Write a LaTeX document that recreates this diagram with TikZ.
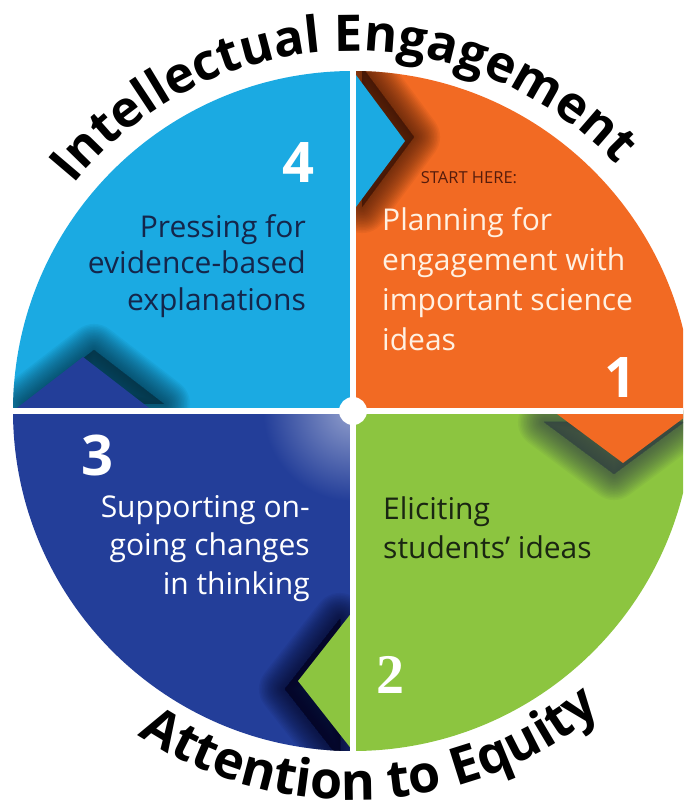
\documentclass[tikz,border=0pt]{standalone}
\usepackage{fontspec}
\setmainfont{Open Sans}
\newfontfamily\numserif{Liberation Serif}
\usetikzlibrary{decorations.text}

\definecolor{cyanq}{RGB}{27,170,226}
\definecolor{orangeq}{RGB}{242,106,35}
\definecolor{greenq}{RGB}{140,197,64}
\definecolor{navyq}{RGB}{35,62,153}
\definecolor{cyantext}{RGB}{20,38,75}
\definecolor{greentext}{RGB}{26,38,18}
\definecolor{starttext}{RGB}{85,28,12}
\definecolor{orangetext}{RGB}{255,241,226}
\definecolor{shadowbrown}{RGB}{55,20,6}
\definecolor{shadowgrey}{RGB}{50,62,70}
\definecolor{shadownavy}{RGB}{4,6,30}
\definecolor{shadowteal}{RGB}{4,45,62}

\tikzset{
  quadtext/.style={inner sep=0pt, font=\fontsize{30}{38.5}\selectfont},
  bignum/.style={inner sep=0pt, text=white, font=\fontsize{56}{56}\selectfont\bfseries},
  divider/.style={white, line width=6pt},
  shadowlayer/.style={fill=#1, draw=#1, opacity=0.055, line join=round},
  headtext/.style={decorate, decoration={text along path, text align=center,
      text={|\fontsize{50.5}{50.5}\selectfont\bfseries|#1}}},
  foottext/.style={decorate, decoration={text along path, text align=center,
      text={|\fontsize{52}{52}\selectfont\bfseries|#1}}},
}

\begin{document}
\begin{tikzpicture}[x=1pt,y=1pt]
\clip (-353,-399) rectangle (330,411);
\fill[white] (-353,-399) rectangle (330,411);

% quadrants
\fill[cyanq] (0,0) -- (180:340) arc[start angle=180,end angle=90,radius=340] -- cycle;
\fill[orangeq] (0,0) -- (90:340) arc[start angle=90,end angle=0,radius=340] -- cycle;
\fill[greenq] (0,0) -- (0:340) arc[start angle=0,end angle=-90,radius=340] -- cycle;
\fill[navyq] (0,0) -- (-90:340) arc[start angle=-90,end angle=-180,radius=340] -- cycle;

% light glow in the navy quadrant near the centre
\begin{scope}
  \clip (0,0) rectangle (-345,-345);
  \shade[inner color=navyq!50!white, outer color=navyq] (0,0) circle[radius=90];
\end{scope}

% cyan pointer into orange quadrant
\begin{scope}
  \clip (0,0) circle[radius=340];
  \clip (0,0) rectangle (345,345);
  \begin{scope}[shift={(9,4)}]
    \foreach \w in {52,49,...,1}
      \filldraw[shadowlayer=shadowbrown, line width=\w pt] (0,200) -- (52,270) -- (0,340) -- cycle;
  \end{scope}
  \fill[cyanq] (0,200) -- (52,270) -- (0,340) -- cycle;
\end{scope}

% orange pointer into green quadrant
\begin{scope}
  \clip (0,0) circle[radius=340];
  \clip (0,0) rectangle (345,-345);
  \begin{scope}[shift={(-9,-11)}]
    \foreach \w in {52,49,...,1}
      \filldraw[shadowlayer=shadowgrey, line width=\w pt] (200,0) -- (270,-52) -- (340,0) -- cycle;
  \end{scope}
  \fill[orangeq] (200,0) -- (270,-52) -- (340,0) -- cycle;
\end{scope}

% green pointer into navy quadrant
\begin{scope}
  \clip (0,0) circle[radius=340];
  \clip (0,0) rectangle (-345,-345);
  \begin{scope}[shift={(-13,-8)}]
    \foreach \w in {52,49,...,1}
      \filldraw[shadowlayer=shadownavy, line width=\w pt] (0,-200) -- (-55,-270) -- (0,-340) -- cycle;
  \end{scope}
  \fill[greenq] (0,-200) -- (-55,-270) -- (0,-340) -- cycle;
\end{scope}

% navy pointer into cyan quadrant
\begin{scope}
  \clip (0,0) circle[radius=340];
  \clip (0,0) rectangle (-345,345);
  \begin{scope}[shift={(11,7)}]
    \foreach \w in {52,49,...,1}
      \filldraw[shadowlayer=shadowteal, line width=\w pt] (-200,0) -- (-270,54) -- (-340,0) -- cycle;
  \end{scope}
  \fill[navyq] (-200,0) -- (-270,54) -- (-340,0) -- cycle;
\end{scope}

% dividers and hub
\begin{scope}
  \clip (0,0) circle[radius=341];
  \draw[divider] (0,-345) -- (0,345);
  \draw[divider] (-345,0) -- (345,0);
\end{scope}
\fill[white] (0,0) circle[radius=14];

% curved titles
\path[headtext=Intellectual Engagement] (182:360) arc[start angle=182, end angle=2, radius=360];
\path[foottext=Attention to Equity] (183:389) arc[start angle=183, end angle=363, radius=389];

% numbers
\node[bignum] (n4) at (-55,248) {4};
\node[bignum] (n1) at (267,33) {1};
\node[bignum] (n3) at (-256,-44) {3};
\node[bignum, font=\fontsize{56}{56}\selectfont\numserif\bfseries] (n2) at (37,-264) {2};

% quadrant texts
\node[quadtext, font=\fontsize{30}{36.5}\selectfont, text=cyantext, align=right, anchor=north east] (t4) at (-47,197)
  {Pressing for\\evidence-based\\explanations};
\node[inner sep=0pt, text=starttext, font=\fontsize{16.5}{16.5}\selectfont] (start) at (116,233) {START HERE:};
\node[quadtext, font=\fontsize{30}{40}\selectfont, text=orangetext, align=left, anchor=north west] (t1) at (29,204)
  {Planning for\\engagement with\\important science\\ideas};
\node[quadtext, text=greentext, align=left, anchor=north west] (t2) at (30,-86)
  {Eliciting\\students' ideas};
\node[quadtext, text=white, align=right, anchor=north east] (t3) at (-43,-84)
  {Supporting on-\\going changes\\in thinking};
\end{tikzpicture}
\end{document}
